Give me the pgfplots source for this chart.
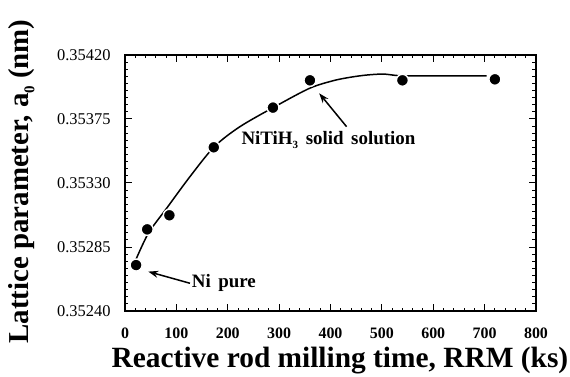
\documentclass[border=0pt]{standalone}
\usepackage{fontspec}
\setmainfont{Liberation Serif}
\usepackage{pgfplots}
\pgfplotsset{compat=1.18}
\usetikzlibrary{arrows.meta}
\begin{document}
\begin{tikzpicture}
\useasboundingbox (-125bp,-66bp) rectangle (445bp,311bp);
\begin{axis}[
  scale only axis, width=411bp, height=256bp,
  xmin=0, xmax=800, ymin=0.35240, ymax=0.35420,
  scaled y ticks=false,
  xtick={0,100,...,800},
  ytick={0.35240,0.35285,0.35330,0.35375,0.35420},
  yticklabels={0.35240,0.35285,0.35330,0.35375,0.35420},
  minor x tick num=4, minor y tick num=8,
  tick align=inside, major tick length=7bp, minor tick length=3.5bp,
  axis line style={line width=1.6bp},
  every tick/.style={line width=1bp, black},
  /pgf/number format/assume math mode=true,
  yticklabel style={font=\fontsize{16.5}{18}\selectfont, xshift=-11bp},
  xticklabel style={font=\bfseries\fontsize{16}{18}\selectfont, yshift=-13bp},
  clip=false,
]
\addplot[black, line width=1.5bp, smooth, tension=0.5] coordinates {
(19.5,0.352747) (45.4,0.352946) (81,0.353122) (126.5,0.353345) (173.8,0.353555)
(223.7,0.353696) (293.8,0.353841) (359.3,0.353966) (405,0.354019) (437.7,0.354043)
(470,0.354059) (502.5,0.354066) (528.6,0.354056) (554,0.354054) (703.7,0.354054)
};
\addplot[only marks, mark=*, mark size=6bp,
  mark options={fill=black, draw=white, line width=1.4bp}] coordinates {
(21.6,0.352723) (43.2,0.352974) (86.4,0.353073) (172.8,0.353551)
(288,0.353830) (360,0.354022) (540,0.354022) (720,0.354029)
};
\draw[-{Stealth[length=10bp,width=7bp]}, line width=1.5bp]
  (axis cs:126.5,0.352595) -- (axis cs:45.3,0.352677);
\node[anchor=west, font=\bfseries\fontsize{19}{20}\selectfont, inner sep=0pt]
  at (axis cs:129.8,0.352600) {Ni\hspace{0.4em}pure};
\draw[-{Stealth[length=10bp,width=7bp]}, line width=1.5bp]
  (axis cs:431.3,0.353696) -- (axis cs:378,0.353931);
\node[font=\bfseries\fontsize{19}{20}\selectfont, inner sep=0pt]
  at (axis cs:396,0.353602) {NiTiH\raisebox{-0.55ex}{\fontsize{11}{11}\selectfont 3}\hspace{0.4em}solid\hspace{0.4em}solution};
\node[rotate=90, font=\bfseries\fontsize{29}{30}\selectfont, inner sep=0pt]
  at ([xshift=-103bp]rel axis cs:0,0.506) {Lattice parameter, a\raisebox{-0.4ex}{\fontsize{15}{15}\selectfont 0} (nm)};
\node[anchor=base, font=\bfseries\fontsize{29.5}{30}\selectfont, inner sep=0pt]
  at ([xshift=215bp, yshift=-56bp]rel axis cs:0,0) {Reactive rod milling time, RRM (ks)};
\end{axis}
\end{tikzpicture}
\end{document}
